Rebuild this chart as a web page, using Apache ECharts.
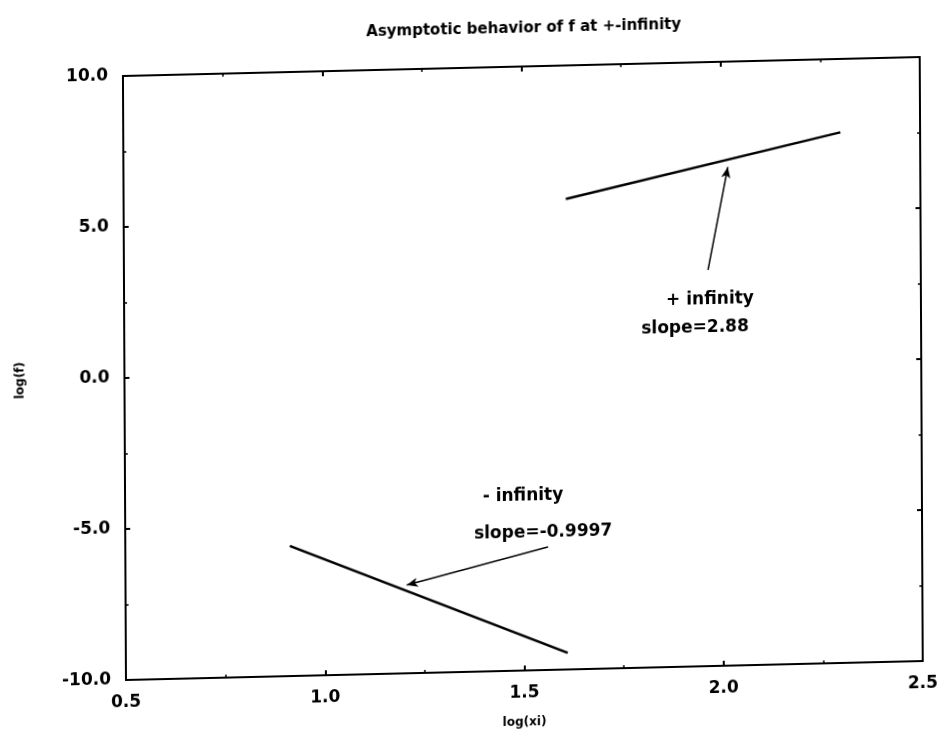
<!DOCTYPE html>
<html>
<head>
<meta charset="utf-8">
<script src="https://cdn.jsdelivr.net/npm/echarts@6/dist/echarts.min.js"></script>
<style>
  html, body { margin: 0; padding: 0; background: #fff; overflow: hidden; width: 943px; height: 732px; }
  #c { width: 943px; height: 780px; transform-origin: 126px 680px; transform: matrix(1, -0.0238, 0.005, 1, 0, 0); }
</style>
</head>
<body>
<div id="c"></div>
<script>
// ---- data ----
var titleText = 'Asymptotic behavior of f at +-infinity';
var xName = 'log(xi)';
var yName = 'log(f)';
var xTicks = [0.5, 1.0, 1.5, 2.0, 2.5];
var yTicks = [-10, -5, 0, 5, 10];
var plusInfinity = [[1.61, 5.58], [2.30, 7.57]];
var minusInfinity = [[0.913, -5.69], [1.609, -9.45]];
var plusArrow = [[1.966, 3.12], [2.017, 6.51]];
var minusArrow = [[1.561, -5.93], [1.206, -7.08]];
var plusLabels = ['+ infinity', 'slope=2.88'];
var minusLabels = ['- infinity', 'slope=-0.9997'];

var FONT = 'DejaVu Sans';
var chart = echarts.init(document.getElementById('c'), null, { renderer: 'canvas' });

function axisCommon(showLabel) {
  return {
    axisLine: { show: true, onZero: false, lineStyle: { color: '#000', width: 2 } },
    axisTick: { show: true, inside: true, length: 5, lineStyle: { color: '#000', width: 2 } },
    minorTick: { show: true, splitNumber: 2, length: 3, lineStyle: { color: '#000', width: 1.5 } },
    splitLine: { show: false },
    axisLabel: {
      show: showLabel,
      color: '#000',
      fontFamily: FONT,
      fontWeight: 'bold',
      fontSize: 17,
      formatter: function (v) { return Number(v).toFixed(1); }
    }
  };
}

var xMain = Object.assign(axisCommon(true), {
  type: 'value', position: 'bottom', min: xTicks[0], max: xTicks[xTicks.length - 1], interval: 0.5,
  name: xName, nameLocation: 'middle', nameGap: 46,
  nameTextStyle: { color: '#000', fontFamily: FONT, fontWeight: 'bold', fontSize: 12 }
});
xMain.axisLabel.margin = 14;
var xTop = Object.assign(axisCommon(false), {
  type: 'value', position: 'top', min: xTicks[0], max: xTicks[xTicks.length - 1], interval: 0.5
});
var yMain = Object.assign(axisCommon(true), {
  type: 'value', position: 'left', min: yTicks[0], max: yTicks[yTicks.length - 1], interval: 5,
  name: yName, nameLocation: 'middle', nameGap: 98, nameRotate: 90,
  nameTextStyle: { color: '#000', fontFamily: FONT, fontWeight: 'bold', fontSize: 12 }
});
yMain.axisLabel.margin = 15;
var yRight = Object.assign(axisCommon(false), {
  type: 'value', position: 'right', min: yTicks[0], max: yTicks[yTicks.length - 1], interval: 5
});

function arrowLine(pts) {
  return {
    silent: true,
    symbol: ['none', 'arrow'],
    symbolSize: [7, 11],
    label: { show: false },
    lineStyle: { color: '#000', width: 1.5, type: 'solid' },
    data: [[{ coord: pts[0] }, { coord: pts[1] }]]
  };
}

function txt(x, y, s, size) {
  return {
    type: 'text', x: x, y: y, silent: true,
    style: { text: s, fill: '#000', font: 'bold ' + size + 'px "' + FONT + '"', align: 'center', verticalAlign: 'middle' }
  };
}

chart.setOption({
  animation: false,
  backgroundColor: '#fff',
  title: {
    text: titleText, left: 522, top: 26, textAlign: 'center',
    textStyle: { color: '#000', fontFamily: FONT, fontWeight: 'bold', fontSize: 15 }
  },
  grid: { left: 126, top: 76, width: 797, height: 604, containLabel: false },
  xAxis: [xMain, xTop],
  yAxis: [yMain, yRight],
  series: [
    {
      type: 'line', data: plusInfinity, showSymbol: false, symbol: 'none',
      lineStyle: { color: '#000', width: 2.5 }, markLine: arrowLine(plusArrow)
    },
    {
      type: 'line', data: minusInfinity, showSymbol: false, symbol: 'none',
      lineStyle: { color: '#000', width: 2.5 }, markLine: arrowLine(minusArrow)
    }
  ],
  graphic: [
    txt(712, 314, plusLabels[0], 17),
    txt(697, 342, plusLabels[1], 17),
    txt(524, 506, minusLabels[0], 17),
    txt(544, 543, minusLabels[1], 17)
  ]
});
</script>
</body>
</html>
